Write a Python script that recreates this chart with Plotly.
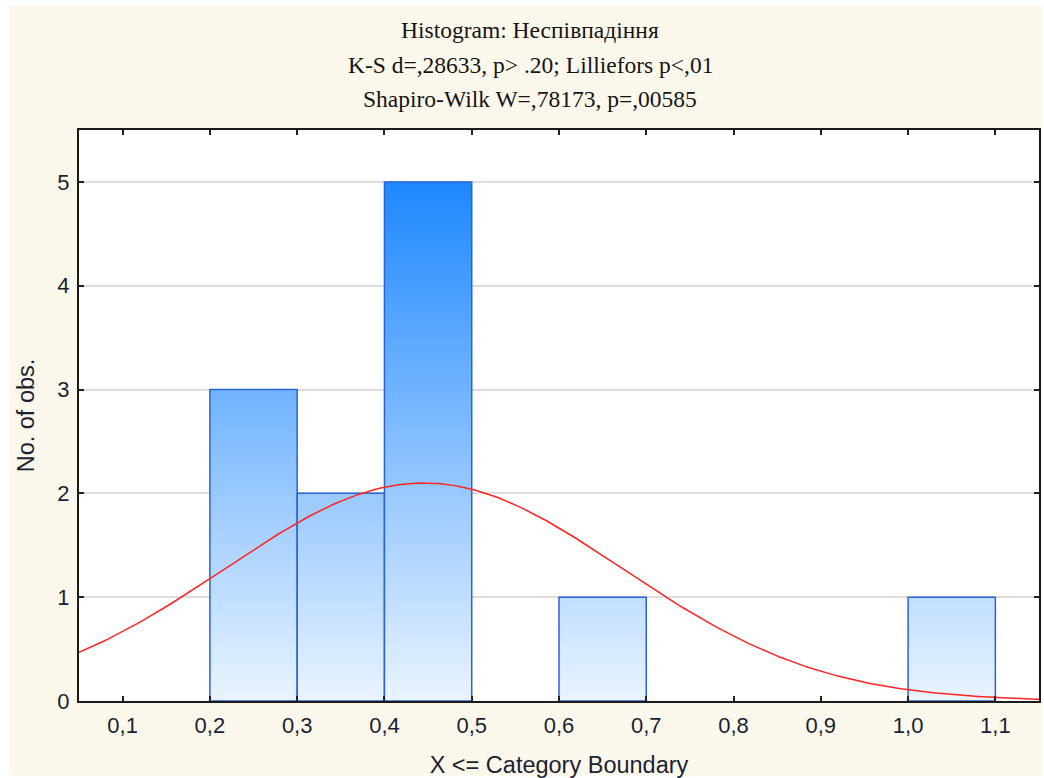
import numpy as np
import plotly.graph_objects as go

# Histogram bins (upper boundaries inclusive) and observed counts
bin_edges = [0.2, 0.3, 0.4, 0.5, 0.6, 0.7, 0.8, 0.9, 1.0, 1.1]
counts = [3, 2, 5, 0, 1, 0, 0, 0, 1]

# Axis ticks
x_ticks = [0.1, 0.2, 0.3, 0.4, 0.5, 0.6, 0.7, 0.8, 0.9, 1.0, 1.1]
y_ticks = [0, 1, 2, 3, 4, 5]

# Fitted normal curve parameters (expected counts per bin)
n_obs = 12
bin_width = 0.1
fit_mean = 0.445
fit_sd = 0.228

title_lines = [
    "Histogram: Неспівпадіння",
    "K-S d=,28633, p> .20; Lilliefors p<,01",
    "Shapiro-Wilk W=,78173, p=,00585",
]

W, H = 1044, 778
M_L, M_R, M_T, M_B = 79, 3, 130, 76
PW, PH = W - M_L - M_R, H - M_T - M_B


def px_x(px):
    return (px - M_L) / PW


def px_y(py):
    return (H - M_B - py) / PH


fig = go.Figure()

# Bars with vertical blue gradient
for i, c in enumerate(counts):
    if c == 0:
        continue
    x0, x1 = bin_edges[i], bin_edges[i + 1]
    fig.add_trace(go.Scatter(
        x=[x0, x0, x1, x1, x0],
        y=[0, c, c, 0, 0],
        mode="lines",
        fill="toself",
        fillgradient=dict(
            type="vertical",
            colorscale=[[0, "#EAF4FF"], [1, "#1E88FF"]],
            start=0,
            stop=5,
        ),
        line=dict(color="#2A63D5", width=1.5),
        hoverinfo="skip",
        showlegend=False,
    ))

# Expected normal curve
xs = np.linspace(0.05, 1.15, 300)
ys = n_obs * bin_width * np.exp(-0.5 * ((xs - fit_mean) / fit_sd) ** 2) / (fit_sd * np.sqrt(2 * np.pi))
fig.add_trace(go.Scatter(
    x=xs, y=ys, mode="lines",
    line=dict(color="#FF2424", width=1.5),
    hoverinfo="skip", showlegend=False,
))

tick_font = dict(family="Liberation Sans, Arial, sans-serif", size=22, color="#1b1f33")
title_font = dict(family="Liberation Sans, Arial, sans-serif", size=23.5, color="#1b1f33")

fig.update_layout(
    width=W, height=H,
    margin=dict(l=M_L, r=M_R, t=M_T, b=M_B, pad=0),
    paper_bgcolor="white",
    plot_bgcolor="white",
    separators=",.",
    showlegend=False,
    xaxis=dict(
        range=[0.05, 1.15],
        tickvals=x_ticks,
        tickformat=".1f",
        ticks="inside", ticklen=5, tickwidth=1.5, tickcolor="#222",
        showline=True, linecolor="#1a1a1a", linewidth=2, mirror="ticks",
        showgrid=False, zeroline=False,
        tickfont=tick_font,
        ticklabelstandoff=4,
        title=dict(text="X <= Category Boundary", font=title_font, standoff=20),
    ),
    yaxis=dict(
        range=[0, 5.5],
        tickvals=y_ticks,
        tickformat="d",
        ticks="inside", ticklen=5, tickwidth=1.5, tickcolor="#222",
        showline=True, linecolor="#1a1a1a", linewidth=2, mirror="ticks",
        showgrid=True, gridcolor="#DDDDDD", gridwidth=1.5,
        zeroline=False,
        tickfont=tick_font,
        ticklabelstandoff=3,
        title=dict(text="No. of obs.", font=title_font, standoff=16),
    ),
    shapes=[
        # cream panel behind the whole chart
        dict(type="rect", xref="paper", yref="paper", layer="below",
             x0=px_x(9), x1=px_x(W), y0=px_y(777), y1=px_y(5),
             fillcolor="#FDF8EC", line=dict(width=0)),
        # white plotting area
        dict(type="rect", xref="paper", yref="paper", layer="below",
             x0=0, x1=1, y0=0, y1=1,
             fillcolor="white", line=dict(width=0)),
    ],
)

for text, py in zip(title_lines, [30, 65, 99]):
    fig.add_annotation(
        text=text, xref="paper", yref="paper",
        x=px_x(531), y=px_y(py), xanchor="center", yanchor="middle",
        showarrow=False,
        font=dict(family="Liberation Serif, Times New Roman, serif", size=23.5, color="#141414"),
    )

fig.write_html("out.html")
